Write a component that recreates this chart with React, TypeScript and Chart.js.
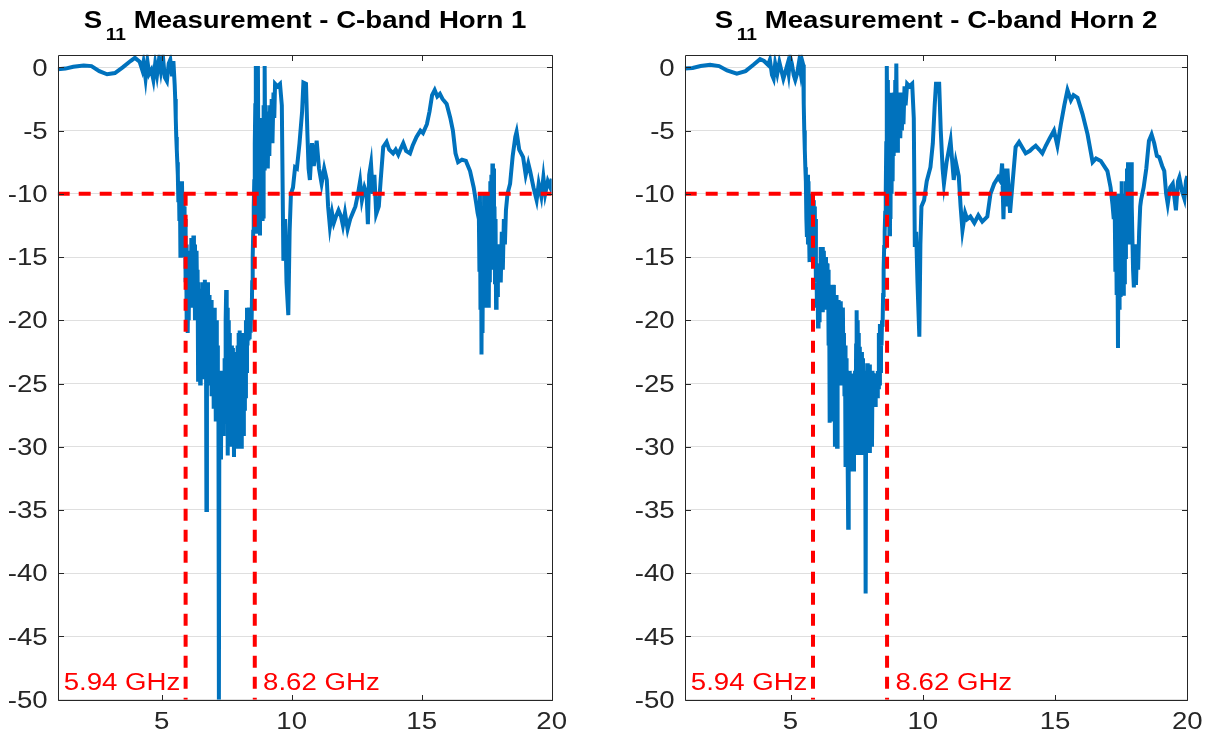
import React, { useEffect, useRef } from 'react';
import { Chart, registerables } from 'chart.js';

Chart.register(...registerables);

// ---------- data ----------
const xTicks = [5, 10, 15, 20];
const yTicks = [0, -5, -10, -15, -20, -25, -30, -35, -40, -45, -50];
const xMin = 1;
const xMax = 20;
const yMin = -50;
const yMax = 1;
const threshold = -10;

const horn1Title = 'Measurement - C-band Horn 1';
const horn2Title = 'Measurement - C-band Horn 2';
const horn1BandLabels = ['5.94 GHz', '8.62 GHz'];
const horn2BandLabels = ['5.94 GHz', '8.62 GHz'];
const horn1Band = [5.92, 8.58];
const horn2Band = [5.85, 8.65];

// Horn 1: frequency (GHz) and S11 (dB)
const horn1Freq = [
  1.0, 1.3, 1.6, 2.0, 2.3, 2.6, 2.9, 3.2, 3.5, 3.8,
  3.97, 4.15, 4.25, 4.3, 4.38, 4.45, 4.52, 4.6, 4.68, 4.75,
  4.82, 4.9, 4.97, 5.05, 5.12, 5.2, 5.27, 5.33, 5.4, 5.45,
  5.50, 5.52, 5.54, 5.56, 5.58, 5.60, 5.62, 5.64, 5.66, 5.68,
  5.70, 5.72, 5.74, 5.76, 5.78, 5.80, 5.82, 5.84, 5.86, 5.88,
  5.90, 5.92, 5.94, 5.96, 5.98, 6.00, 6.02, 6.04, 6.06, 6.08,
  6.10, 6.12, 6.14, 6.16, 6.18, 6.20, 6.22, 6.24, 6.26, 6.28,
  6.30, 6.32, 6.34, 6.36, 6.38, 6.40, 6.42, 6.44, 6.46, 6.48,
  6.50, 6.52, 6.54, 6.56, 6.58, 6.60, 6.62, 6.64, 6.66, 6.68,
  6.70, 6.72, 6.74, 6.76, 6.78, 6.80, 6.82, 6.84, 6.86, 6.88,
  6.90, 6.92, 6.94, 6.96, 6.98, 7.00, 7.02, 7.04, 7.06, 7.08,
  7.10, 7.12, 7.14, 7.16, 7.18, 7.20, 7.22, 7.24, 7.26, 7.28,
  7.30, 7.32, 7.34, 7.36, 7.38, 7.40, 7.42, 7.44, 7.46, 7.48,
  7.50, 7.52, 7.54, 7.56, 7.58, 7.60, 7.62, 7.64, 7.66, 7.68,
  7.70, 7.72, 7.74, 7.76, 7.78, 7.80, 7.82, 7.84, 7.86, 7.88,
  7.90, 7.92, 7.94, 7.96, 7.98, 8.00, 8.02, 8.04, 8.06, 8.08,
  8.10, 8.12, 8.14, 8.16, 8.18, 8.20, 8.22, 8.24, 8.26, 8.28,
  8.30, 8.32, 8.34, 8.36, 8.38, 8.40, 8.42, 8.44, 8.46, 8.48,
  8.50, 8.52, 8.54, 8.56, 8.58, 8.60, 8.62, 8.64, 8.66, 8.68,
  8.70, 8.72, 8.74, 8.76, 8.78, 8.80, 8.82, 8.84, 8.86, 8.88,
  8.90, 8.92, 8.94, 8.96, 8.98,
  9.00, 9.02, 9.05, 9.08, 9.11, 9.14, 9.17, 9.20, 9.23, 9.26,
  9.30, 9.33, 9.36, 9.45, 9.55, 9.62, 9.68, 9.75, 9.8, 9.87,
  9.92, 9.97, 10.05, 10.13, 10.2, 10.3, 10.4, 10.45, 10.55, 10.6,
  10.65, 10.7, 10.78, 10.85, 10.96, 11.05, 11.15, 11.25, 11.35, 11.4,
  11.47, 11.55, 11.62, 11.7, 11.8, 11.9, 11.97, 12.05, 12.15, 12.25,
  12.35, 12.45, 12.55, 12.63, 12.7, 12.8, 12.88, 12.93, 12.98, 13.05,
  13.12, 13.18, 13.25, 13.35, 13.42, 13.52, 13.65, 13.75, 13.9, 14.0,
  14.1, 14.2, 14.29, 14.4, 14.55, 14.65, 14.8, 14.95, 15.05, 15.2,
  15.3, 15.4, 15.5, 15.6, 15.7, 15.8, 15.96, 16.1, 16.2, 16.3,
  16.4, 16.55, 16.7, 16.86, 17.0, 17.1, 17.15,
  17.20, 17.22, 17.24, 17.26, 17.28, 17.30, 17.32, 17.34, 17.36, 17.38,
  17.40, 17.42, 17.44, 17.46, 17.48, 17.50, 17.52, 17.54, 17.56, 17.58,
  17.60, 17.62, 17.64, 17.66, 17.68, 17.70, 17.72, 17.74, 17.76, 17.78,
  17.80, 17.82, 17.84, 17.86, 17.88, 17.90, 17.93, 17.96, 18.00, 18.04,
  18.08, 18.12, 18.16, 18.20, 18.24, 18.30, 18.40,
  18.5, 18.6, 18.65, 18.75, 18.9, 19.0, 19.1, 19.17, 19.3, 19.42,
  19.5, 19.6, 19.68, 19.75, 19.85, 19.95, 20.0,
];
const horn1S11 = [
  -0.15, -0.1, 0.05, 0.15, 0.1, -0.3, -0.55, -0.45, 0.0, 0.5,
  0.75, 0.45, -0.2, 0.4, -0.9, 0.5, -0.5, -0.2, -1.0, 0.3,
  -0.6, 0.7, -0.3, 0.8, -0.8, -1.1, 0.3, 0.6, -0.7, 0.5,
  -1.4, -2.5, -4, -5.5, -6.5, -7.5, -8.5, -10.5, -9, -12,
  -9.5, -14.9, -10, -13, -9, -12, -10.5, -14, -11, -15,
  -12, -17, -14, -20, -16, -21, -17, -20, -15, -19,
  -14.5, -18, -13.5, -19, -14, -18, -13.3, -17, -14, -20,
  -15, -19, -14.5, -18, -16, -24.7, -17, -24, -18, -25,
  -17.5, -24, -18, -23, -17, -24.5, -18, -22, -16.8, -24,
  -18, -35, -20, -25, -17, -24, -18, -25, -19, -24,
  -18.4, -26, -19, -25, -20, -27, -19, -26, -21, -28,
  -20, -27, -22, -28, -24, -50, -24, -28, -24, -31,
  -24, -28, -24, -29, -25, -28, -23, -27, -20, -17.6,
  -26, -19, -30.7, -20, -29, -21, -30, -22, -28, -22,
  -30, -22.2, -29, -23, -30.8, -24, -29, -22.5, -30, -23,
  -28, -22, -30, -21, -28, -20.8, -29, -22, -30, -21,
  -28, -22, -29, -21, -27, -21, -26, -20, -24, -19,
  -22, -19.5, -21.6, -19, -21.5, -20, -21, -19, -20, -17,
  -15, -13, -11, -9, -6, -3, 0.1, -10, -4, -13,
  0.1, -8, -12, -5, -13.3, -4, -11, -6, -12, -5,
  -11.8, -3, -8, 0.1, -6,
  -3, -8, -4, -8, -3.5, -7, -3, -6, -2.5, -6,
  -2, -4, -1.3, -1.5, -1.3, -3, -15.3, -12, -17, -19.6,
  -13, -10, -9.5, -7.9, -8, -6, -3.5, -1.2, -1.3, -5,
  -8, -8.9, -6, -7.8, -5.8, -8, -9.2, -8, -8.9, -11,
  -12.6, -11.5, -12.3, -11.8, -11.3, -11.8, -12.5, -11.5, -12.8, -12,
  -11.5, -11, -10, -9, -10.5, -9.5, -10, -12.4, -8.5, -7.6,
  -10, -8.5, -11.6, -11, -9, -6.3, -5.9, -6.5, -6.8, -6.5,
  -6.9, -6.4, -6.0, -6.6, -6.8, -6.2, -5.5, -5.0, -5.2, -4.5,
  -3.5, -2.2, -1.8, -2.3, -2.1, -2.5, -2.9, -4, -5, -6.8,
  -7.5, -7.3, -7.4, -8.2, -9.5, -10.8, -11.5,
  -12, -16, -10, -19, -11, -22.7, -12, -21, -13, -19,
  -10, -18, -11, -17, -10, -19, -12, -18, -10, -19,
  -11, -17, -9, -16, -8.5, -15, -7.6, -14, -8, -16,
  -11, -17, -12, -19, -14, -18, -15, -17, -14, -17,
  -13, -16, -12, -14, -11.3, -10, -9.2,
  -7, -5.5, -5.1, -6.5, -7.1, -8.5, -7.6, -8.2, -9.5, -10.5,
  -9.2, -10.2, -8.7, -10, -9, -9.5, -8.8,
];

// Horn 2: frequency (GHz) and S11 (dB)
const horn2Freq = [
  1.0, 1.3, 1.6, 1.96, 2.3, 2.6, 2.97, 3.3, 3.6, 3.85,
  4.0, 4.15, 4.22, 4.3, 4.36, 4.42, 4.5, 4.58, 4.66, 4.73,
  4.8, 4.88, 4.93, 4.99, 5.05, 5.12, 5.18, 5.25, 5.32, 5.38,
  5.43, 5.48,
  5.50, 5.52, 5.54, 5.56, 5.58, 5.60, 5.62, 5.64, 5.66, 5.68,
  5.70, 5.72, 5.74, 5.76, 5.78, 5.80, 5.82, 5.84, 5.86, 5.88,
  5.90, 5.92, 5.94, 5.96, 5.98, 6.00, 6.02, 6.04, 6.06, 6.08,
  6.10, 6.12, 6.14, 6.16, 6.18, 6.20, 6.22, 6.24, 6.26, 6.28,
  6.30, 6.32, 6.34, 6.36, 6.38, 6.40, 6.42, 6.44, 6.46, 6.48,
  6.50, 6.52, 6.54, 6.56, 6.58, 6.60, 6.62, 6.64, 6.66, 6.68,
  6.70, 6.72, 6.74, 6.76, 6.78, 6.80, 6.82, 6.84, 6.86, 6.88,
  6.90, 6.92, 6.94, 6.96, 6.98, 7.00, 7.02, 7.04, 7.06, 7.08,
  7.10, 7.12, 7.14, 7.16, 7.18, 7.20, 7.22, 7.24, 7.26, 7.28,
  7.30, 7.32, 7.34, 7.36, 7.38, 7.40, 7.42, 7.44, 7.46, 7.48,
  7.50, 7.52, 7.54, 7.56, 7.58, 7.60, 7.62, 7.64, 7.66, 7.68,
  7.70, 7.72, 7.74, 7.76, 7.78, 7.80, 7.82, 7.84, 7.86, 7.88,
  7.90, 7.92, 7.94, 7.96, 7.98, 8.00, 8.02, 8.04, 8.06, 8.08,
  8.10, 8.12, 8.14, 8.16, 8.18, 8.20, 8.22, 8.24, 8.26, 8.28,
  8.30, 8.32, 8.34, 8.36, 8.38, 8.40, 8.42, 8.44, 8.46, 8.48,
  8.50, 8.52, 8.54, 8.56, 8.58, 8.60, 8.62, 8.64, 8.66, 8.68,
  8.70, 8.72, 8.74, 8.76, 8.78, 8.80, 8.82, 8.84, 8.86, 8.88,
  8.90, 8.92, 8.94, 8.96, 8.98, 9.00,
  9.03, 9.06, 9.09, 9.12, 9.15, 9.18, 9.21, 9.24, 9.27, 9.31,
  9.35, 9.41, 9.5, 9.6, 9.66, 9.7, 9.75, 9.8, 9.87, 9.91,
  9.95, 10.05, 10.15, 10.29, 10.38, 10.45, 10.5, 10.62, 10.68, 10.75,
  10.8, 10.9, 11.05, 11.17, 11.25, 11.36, 11.43, 11.5, 11.6, 11.68,
  11.8, 11.95, 12.1, 12.25, 12.44, 12.56, 12.7, 12.85, 12.94, 13.0,
  13.05, 13.1, 13.15, 13.2, 13.3, 13.4, 13.51, 13.64, 13.75, 13.89,
  14.05, 14.15, 14.27, 14.4, 14.52, 14.65, 14.8, 14.96, 15.09, 15.22,
  15.35, 15.47, 15.6, 15.7, 15.85, 16.04, 16.23, 16.42, 16.55, 16.73,
  16.98, 17.1, 17.17,
  17.22, 17.25, 17.28, 17.30, 17.33, 17.35, 17.38, 17.40, 17.42, 17.44,
  17.46, 17.48, 17.50, 17.52, 17.54, 17.56, 17.58, 17.60, 17.62, 17.64,
  17.66, 17.68, 17.70, 17.72, 17.74, 17.76, 17.78, 17.80, 17.82, 17.84,
  17.86, 17.88, 17.90, 17.92, 17.95, 17.98, 18.02, 18.06, 18.10, 18.14,
  18.18, 18.22, 18.25,
  18.35, 18.45, 18.55, 18.65, 18.75, 18.85, 18.94, 19.05, 19.13, 19.2,
  19.26, 19.35, 19.45, 19.57, 19.65, 19.7, 19.8, 19.89, 19.95, 20.0,
];
const horn2S11 = [
  -0.1, -0.05, 0.1, 0.2, 0.1, -0.25, -0.5, -0.3, 0.2, 0.65,
  0.5, 0.2, 0.6, -0.6, -0.9, 0.3, -0.5, 0.4, -0.3, -0.9,
  -0.4, 0.2, -0.5, 0.8, 0.3, -0.6, -1.0, -0.5, 0.4, -0.4,
  0.6, 0.2,
  -2.9, -5, -6.5, -7.9, -9, -12, -13.4, -8.5, -14, -9,
  -13, -15.4, -10, -14, -10.5, -15, -11, -14, -10.5, -13,
  -11, -15, -12, -17, -15.5, -19, -16, -20.5, -17, -20,
  -16, -19, -14.2, -18, -14.5, -19.2, -14.2, -17, -14.5, -18,
  -15, -19, -15, -17, -15.5, -19, -16, -22, -17.2, -28.1,
  -18, -27, -17.5, -28, -18, -26, -17.2, -28, -18, -30,
  -19, -29, -18, -30, -19, -25, -18.4, -24, -19, -25,
  -18.5, -24, -20, -25, -19, -24, -21, -26, -22, -31.6,
  -23, -30, -24, -31, -36.4, -25, -31, -24, -30, -24.2,
  -31.8, -25, -31, -24.2, -31.8, -25, -30, -24, -29, -22,
  -19.2, -30.5, -20, -29, -21, -30.5, -22.1, -30, -23, -30.5,
  -22.5, -29, -23, -30.5, -24, -29, -24, -41.6, -25, -30,
  -23.4, -30.5, -24, -30, -23.5, -30.5, -24, -29, -24, -30,
  -24, -26.7, -24.2, -26.5, -24.5, -26.7, -24.2, -26, -24.5, -26,
  -24, -25.3, -21, -25, -20.3, -24, -21, -22, -20, -20.5,
  -18, -16, -14.2, -13, -11.5, -10, -6, 0.1, -6, -1,
  -10, -3, -13.2, -4, -12, -2, -10, -4, -9, -3,
  -7, -2, -6.6, -1, -5, 0.3,
  -6.6, -3, -5.6, -2, -5.6, -2.5, -5, -2, -4.5, -1.5,
  -3, -1.3, -1.5, -1.3, -4, -14.2, -13, -17, -21.3, -14,
  -11, -10.5, -9, -7.9, -6, -3, -1.3, -1.3, -5, -8,
  -9.2, -7.5, -5.8, -8.9, -7.5, -8.6, -11, -12.9, -11.5, -12,
  -11.8, -12.3, -11.7, -12.2, -11.8, -10, -9.2, -8.7, -9, -7.6,
  -12, -8, -11, -8, -11.5, -9, -6.3, -5.9, -6.3, -6.8,
  -6.6, -6.4, -6.2, -6.5, -6.8, -6.2, -5.6, -5.0, -6.2, -4.5,
  -3, -1.8, -2.6, -2.2, -2.4, -3.7, -5.3, -7.5, -7.2, -7.4,
  -8.2, -9.5, -10.8,
  -12, -10, -16, -10, -18, -11, -22.2, -12, -19, -10,
  -18, -10, -16, -9, -17, -11, -17.9, -12, -17, -10,
  -15, -9, -13, -8, -12, -7.5, -13, -9, -14, -8,
  -12, -7.5, -11, -13, -16, -17.4, -14, -17.2, -14, -16,
  -13, -11, -10.5,
  -9.5, -8, -5.8, -5.3, -6, -7, -7.1, -7.8, -8.2, -10,
  -10.8, -9.5, -9.2, -11.3, -9, -8.7, -9.8, -10.4, -9, -8.6,
];

// ---------- style ----------
const FONT = '"Liberation Sans", Arial, Helvetica, sans-serif';
const STRETCH = 1.2;
const AXIS_COLOR = '#262626';
const LINE_BLUE = '#0072BD';
const RED = '#FF0000';
const W = 1212;
const H = 740;
const PLOT_TOP = 54.7;
const PLOT_BOTTOM = 699.7;

function drawText(
  ctx: CanvasRenderingContext2D,
  text: string,
  x: number,
  y: number,
  align: 'left' | 'right' | 'center',
  size: number,
  color: string
) {
  ctx.save();
  ctx.font = `${size}px ${FONT}`;
  ctx.fillStyle = color;
  ctx.textBaseline = 'alphabetic';
  ctx.textAlign = 'left';
  const w = ctx.measureText(text).width * STRETCH;
  const x0 = align === 'left' ? x : align === 'right' ? x - w : x - w / 2;
  ctx.translate(x0, y);
  ctx.scale(STRETCH, 1);
  ctx.fillText(text, 0, 0);
  ctx.restore();
}

type ChartProps = {
  canvasLeft: number;
  canvasWidth: number;
  plotLeft: number;
  plotRight: number;
  freq: number[];
  s11: number[];
  band: number[];
  bandLabels: string[];
  title: string;
};

function S11Chart(props: ChartProps) {
  const { canvasLeft, canvasWidth, plotLeft, plotRight, freq, s11, band, bandLabels, title } = props;
  const ref = useRef<HTMLCanvasElement>(null);

  useEffect(() => {
    const canvas = ref.current;
    if (!canvas) return;

    const axesPlugin = {
      id: 'matlabAxes',
      afterDatasetsDraw(chart: any) {
        const { ctx, chartArea: a, scales } = chart;
        const xs = scales.x;
        const ys = scales.y;
        const L = Math.round(a.left) + 0.5;
        const R = Math.round(a.right) + 0.5;
        const T = Math.round(a.top) + 0.5;
        const B = Math.round(a.bottom) + 0.5;
        ctx.save();
        ctx.strokeStyle = AXIS_COLOR;
        ctx.lineWidth = 1;
        ctx.beginPath();
        ctx.rect(L, T, R - L, B - T);
        const tl = 5.5;
        for (const v of xTicks) {
          const px = Math.round(xs.getPixelForValue(v)) + 0.5;
          ctx.moveTo(px, B);
          ctx.lineTo(px, B - tl);
          ctx.moveTo(px, T);
          ctx.lineTo(px, T + tl);
        }
        for (const v of yTicks) {
          const py = Math.round(ys.getPixelForValue(v)) + 0.5;
          ctx.moveTo(L, py);
          ctx.lineTo(L + tl, py);
          ctx.moveTo(R, py);
          ctx.lineTo(R - tl, py);
        }
        ctx.stroke();
        ctx.restore();

        for (const v of yTicks) {
          drawText(ctx, String(v), a.left - 10, ys.getPixelForValue(v) + 8.2, 'right', 23, AXIS_COLOR);
        }
        for (const v of xTicks) {
          drawText(ctx, String(v), xs.getPixelForValue(v), a.bottom + 29.5, 'center', 23, AXIS_COLOR);
        }
        const labelY = ys.getPixelForValue(-48.6) + 8.2;
        drawText(ctx, bandLabels[0], xs.getPixelForValue(xMin + 0.23), labelY, 'left', 23, RED);
        drawText(ctx, bandLabels[1], xs.getPixelForValue(band[1] + 0.32), labelY, 'left', 23, RED);
      },
    };

    const dashed = {
      borderColor: RED,
      borderWidth: 4,
      borderDash: [12, 9],
      pointRadius: 0,
      tension: 0,
      fill: false,
      order: 0,
    };

    const n = Math.min(freq.length, s11.length);
    const points = [];
    for (let i = 0; i < n; i++) points.push({ x: freq[i], y: s11[i] });

    const chart = new Chart(canvas, {
      type: 'line',
      data: {
        datasets: [
          {
            ...dashed,
            data: [
              { x: xMin, y: threshold },
              { x: xMax, y: threshold },
            ],
          },
          {
            ...dashed,
            data: [
              { x: band[0], y: threshold },
              { x: band[0], y: yMin },
            ],
          },
          {
            ...dashed,
            data: [
              { x: band[1], y: threshold },
              { x: band[1], y: yMin },
            ],
          },
          {
            data: points,
            borderColor: LINE_BLUE,
            borderWidth: 4,
            pointRadius: 0,
            tension: 0,
            fill: false,
            order: 1,
          },
        ] as any,
      },
      options: {
        responsive: false,
        animation: false,
        devicePixelRatio: 1,
        events: [],
        layout: {
          padding: {
            left: 0,
            top: PLOT_TOP,
            right: canvasWidth - (plotRight - canvasLeft),
            bottom: 0,
          },
        },
        plugins: {
          legend: { display: false },
          tooltip: { enabled: false },
          title: { display: false },
        },
        scales: {
          x: {
            type: 'linear',
            min: xMin,
            max: xMax,
            afterBuildTicks: (s: any) => {
              s.ticks = xTicks.map((v) => ({ value: v }));
            },
            afterFit: (s: any) => {
              s.height = H - PLOT_BOTTOM;
            },
            grid: { display: false },
            border: { display: false },
            ticks: { display: false },
          },
          y: {
            type: 'linear',
            min: yMin,
            max: yMax,
            afterBuildTicks: (s: any) => {
              s.ticks = yTicks.map((v) => ({ value: v }));
            },
            afterFit: (s: any) => {
              s.width = plotLeft - canvasLeft;
            },
            grid: { color: '#dfdfdf', lineWidth: 1, drawTicks: false },
            border: { display: false },
            ticks: { display: false },
          },
        },
      } as any,
      plugins: [axesPlugin],
    });

    return () => chart.destroy();
  }, [canvasLeft, canvasWidth, plotLeft, plotRight, freq, s11, band, bandLabels]);

  const center = (plotLeft + plotRight) / 2;

  return (
    <>
      <canvas
        ref={ref}
        width={canvasWidth}
        height={H}
        style={{ position: 'absolute', left: canvasLeft, top: 0, width: canvasWidth, height: H }}
      />
      <div
        style={{
          position: 'absolute',
          left: center - 300,
          top: 8.5,
          width: 600,
          textAlign: 'center',
          fontFamily: FONT,
          fontWeight: 'bold',
          fontSize: 23,
          lineHeight: '23px',
          color: '#000000',
          whiteSpace: 'nowrap',
          transform: `scaleX(${STRETCH})`,
          transformOrigin: '300px 0',
        }}
      >
        S
        <span style={{ fontSize: 16, position: 'relative', top: 12, marginLeft: 3 }}>11</span> {title}
      </div>
    </>
  );
}

export default function App() {
  return (
    <div
      style={{
        position: 'fixed',
        left: 0,
        top: 0,
        width: W,
        height: H,
        background: '#ffffff',
        overflow: 'hidden',
      }}
    >
      <S11Chart
        canvasLeft={0}
        canvasWidth={606}
        plotLeft={57.7}
        plotRight={551.7}
        freq={horn1Freq}
        s11={horn1S11}
        band={horn1Band}
        bandLabels={horn1BandLabels}
        title={horn1Title}
      />
      <S11Chart
        canvasLeft={606}
        canvasWidth={606}
        plotLeft={684.7}
        plotRight={1187.3}
        freq={horn2Freq}
        s11={horn2S11}
        band={horn2Band}
        bandLabels={horn2BandLabels}
        title={horn2Title}
      />
    </div>
  );
}
